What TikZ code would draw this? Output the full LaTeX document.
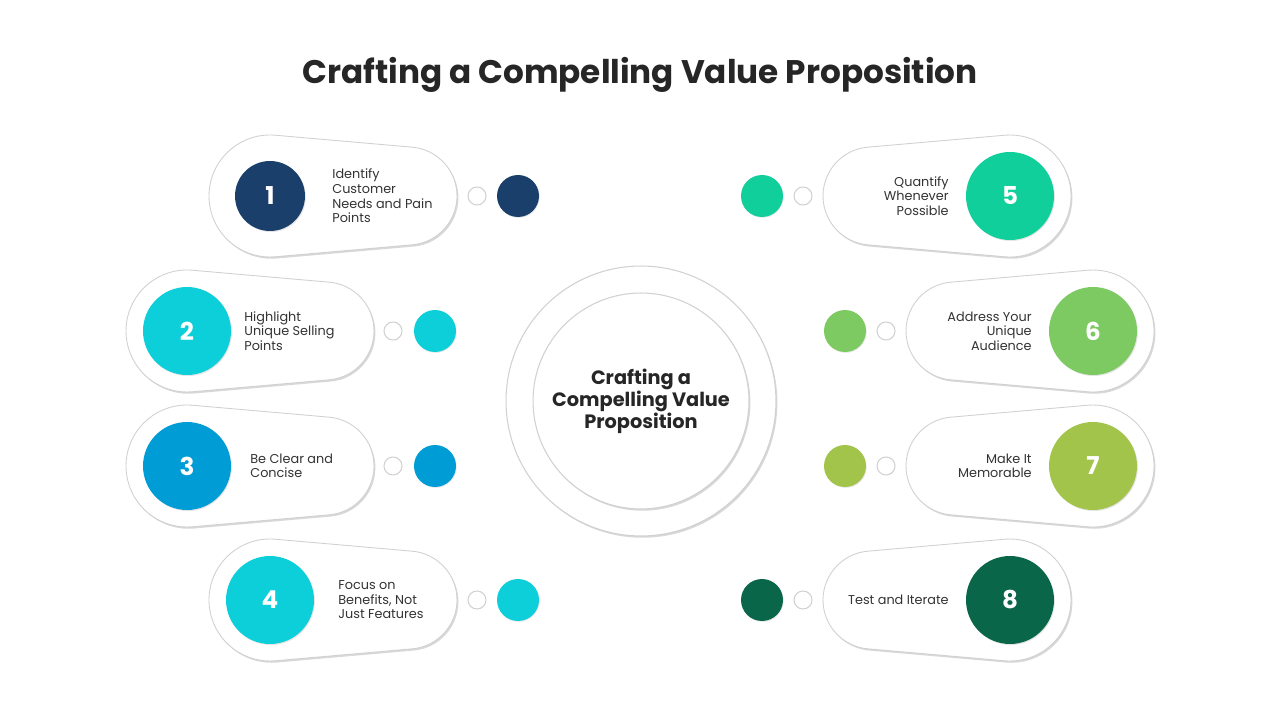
\documentclass[tikz,border=0pt]{standalone}
\usepackage{fontspec}
\setmainfont{Poppins}
\usetikzlibrary{calc,shadows}

\definecolor{titlegray}{HTML}{262626}
\definecolor{textgray}{HTML}{333333}
\definecolor{stepnavy}{HTML}{1B3F6B}
\definecolor{stepcyan}{HTML}{0DCFDA}
\definecolor{stepblue}{HTML}{009CD6}
\definecolor{stepmint}{HTML}{10CF9B}
\definecolor{steplime}{HTML}{7DC962}
\definecolor{stepolive}{HTML}{A3C44A}
\definecolor{stepforest}{HTML}{0A6649}

\tikzset{
  pillbox/.style={
    fill=white, draw=black!18, line width=0.5pt,
    drop shadow={opacity=0.3, shadow xshift=0.8pt, shadow yshift=-1pt}},
  numcircle/.style={
    circle, minimum size=1.76cm, inner sep=0pt, text=white,
    font=\fontsize{14}{14}\selectfont\bfseries,
    drop shadow={opacity=0.2, shadow xshift=0.5pt, shadow yshift=-0.6pt}},
  ringdot/.style={
    circle, minimum size=0.36cm, inner sep=0pt,
    fill=white, draw=black!18, line width=0.6pt},
  colordot/.style={
    circle, minimum size=0.84cm, inner sep=0pt,
    drop shadow={opacity=0.18, shadow xshift=0.4pt, shadow yshift=-0.5pt}},
  stepleft/.style={
    anchor=west, align=left, inner sep=0pt, text=textgray,
    font=\fontsize{7.3}{8.3}\selectfont},
  stepright/.style={
    anchor=east, align=right, inner sep=0pt, text=textgray,
    font=\fontsize{7.3}{8.3}\selectfont},
  hubring/.style={
    circle, inner sep=0pt, fill=white, draw=black!18, line width=0.6pt,
    drop shadow={opacity=0.3, shadow xshift=0.8pt, shadow yshift=-1pt}}
}

% pill with the big end on the left: #1 big x, #2 small x, #3 y
\newcommand{\pillleft}[3]{%
  \path[pillbox] (#2,#3) ++(-85:49) arc[start angle=-85, end angle=85, radius=49]
    -- ($(#1,#3)+(85:61)$) arc[start angle=85, end angle=275, radius=61] -- cycle;}

% pill with the big end on the right: #1 big x, #2 small x, #3 y
\newcommand{\pillright}[3]{%
  \path[pillbox] (#1,#3) ++(-95:61) arc[start angle=-95, end angle=95, radius=61]
    -- ($(#2,#3)+(95:49)$) arc[start angle=95, end angle=265, radius=49] -- cycle;}

\begin{document}
\begin{tikzpicture}[x=0.02cm, y=0.02cm]

\fill[white] (0,0) rectangle (1280,720);
\useasboundingbox (0,0) rectangle (1280,720);

%%%%%%%%%%%%%%%%%%%%%%%%%%%%%%%%%%%%%%%%%%%%%%%%%%%%%%
% TITLE
%%%%%%%%%%%%%%%%%%%%%%%%%%%%%%%%%%%%%%%%%%%%%%%%%%%%%%

\node[
font=\fontsize{18.6}{18.6}\selectfont\bfseries,
text=titlegray
] (title) at (640,645)
{Crafting a Compelling Value Proposition};

%%%%%%%%%%%%%%%%%%%%%%%%%%%%%%%%%%%%%%%%%%%%%%%%%%%%%%
% CENTRE
%%%%%%%%%%%%%%%%%%%%%%%%%%%%%%%%%%%%%%%%%%%%%%%%%%%%%%

\node[hubring, minimum size=5.4cm] (hub) at (641,319) {};

\node[
hubring,
minimum size=4.32cm,
align=center,
text=titlegray,
font=\fontsize{11}{12.5}\selectfont\bfseries
] (hubinner) at (hub)
{Crafting a\\Compelling Value\\Proposition};

%%%%%%%%%%%%%%%%%%%%%%%%%%%%%%%%%%%%%%%%%%%%%%%%%%%%%%
% LEFT PILLS
%%%%%%%%%%%%%%%%%%%%%%%%%%%%%%%%%%%%%%%%%%%%%%%%%%%%%%

\pillleft{270}{408}{524}
\pillleft{187}{325}{389}
\pillleft{187}{325}{254}
\pillleft{270}{408}{120}

%%%%%%%%%%%%%%%%%%%%%%%%%%%%%%%%%%%%%%%%%%%%%%%%%%%%%%
% RIGHT PILLS
%%%%%%%%%%%%%%%%%%%%%%%%%%%%%%%%%%%%%%%%%%%%%%%%%%%%%%

\pillright{1010}{872}{524}
\pillright{1093}{955}{389}
\pillright{1093}{955}{254}
\pillright{1010}{872}{120}

%%%%%%%%%%%%%%%%%%%%%%%%%%%%%%%%%%%%%%%%%%%%%%%%%%%%%%
% STEP 1
%%%%%%%%%%%%%%%%%%%%%%%%%%%%%%%%%%%%%%%%%%%%%%%%%%%%%%

\node[numcircle, minimum size=1.4cm, fill=stepnavy] (num1) at (270,524) {1};
\node[stepleft] (txt1) at (332,524) {Identify\\Customer\\Needs and Pain\\Points};
\node[ringdot] (ring1) at (477,524) {};
\node[colordot, fill=stepnavy] (dot1) at (518,524) {};

%%%%%%%%%%%%%%%%%%%%%%%%%%%%%%%%%%%%%%%%%%%%%%%%%%%%%%
% STEP 2
%%%%%%%%%%%%%%%%%%%%%%%%%%%%%%%%%%%%%%%%%%%%%%%%%%%%%%

\node[numcircle, fill=stepcyan] (num2) at (187,389) {2};
\node[stepleft] (txt2) at (244,389) {Highlight\\Unique Selling\\Points};
\node[ringdot] (ring2) at (393,389) {};
\node[colordot, fill=stepcyan] (dot2) at (435,389) {};

%%%%%%%%%%%%%%%%%%%%%%%%%%%%%%%%%%%%%%%%%%%%%%%%%%%%%%
% STEP 3
%%%%%%%%%%%%%%%%%%%%%%%%%%%%%%%%%%%%%%%%%%%%%%%%%%%%%%

\node[numcircle, fill=stepblue] (num3) at (187,254) {3};
\node[stepleft] (txt3) at (250,254) {Be Clear and\\Concise};
\node[ringdot] (ring3) at (393,254) {};
\node[colordot, fill=stepblue] (dot3) at (435,254) {};

%%%%%%%%%%%%%%%%%%%%%%%%%%%%%%%%%%%%%%%%%%%%%%%%%%%%%%
% STEP 4
%%%%%%%%%%%%%%%%%%%%%%%%%%%%%%%%%%%%%%%%%%%%%%%%%%%%%%

\node[numcircle, fill=stepcyan] (num4) at (270,120) {4};
\node[stepleft] (txt4) at (338,120) {Focus on\\Benefits, Not\\Just Features};
\node[ringdot] (ring4) at (477,120) {};
\node[colordot, fill=stepcyan] (dot4) at (518,120) {};

%%%%%%%%%%%%%%%%%%%%%%%%%%%%%%%%%%%%%%%%%%%%%%%%%%%%%%
% STEP 5
%%%%%%%%%%%%%%%%%%%%%%%%%%%%%%%%%%%%%%%%%%%%%%%%%%%%%%

\node[numcircle, fill=stepmint] (num5) at (1010,524) {5};
\node[stepright] (txt5) at (949,524) {Quantify\\Whenever\\Possible};
\node[ringdot] (ring5) at (803,524) {};
\node[colordot, fill=stepmint] (dot5) at (762,524) {};

%%%%%%%%%%%%%%%%%%%%%%%%%%%%%%%%%%%%%%%%%%%%%%%%%%%%%%
% STEP 6
%%%%%%%%%%%%%%%%%%%%%%%%%%%%%%%%%%%%%%%%%%%%%%%%%%%%%%

\node[numcircle, fill=steplime] (num6) at (1093,389) {6};
\node[stepright] (txt6) at (1032,389) {Address Your\\Unique\\Audience};
\node[ringdot] (ring6) at (886,389) {};
\node[colordot, fill=steplime] (dot6) at (845,389) {};

%%%%%%%%%%%%%%%%%%%%%%%%%%%%%%%%%%%%%%%%%%%%%%%%%%%%%%
% STEP 7
%%%%%%%%%%%%%%%%%%%%%%%%%%%%%%%%%%%%%%%%%%%%%%%%%%%%%%

\node[numcircle, fill=stepolive] (num7) at (1093,254) {7};
\node[stepright] (txt7) at (1032,254) {Make It\\Memorable};
\node[ringdot] (ring7) at (886,254) {};
\node[colordot, fill=stepolive] (dot7) at (845,254) {};

%%%%%%%%%%%%%%%%%%%%%%%%%%%%%%%%%%%%%%%%%%%%%%%%%%%%%%
% STEP 8
%%%%%%%%%%%%%%%%%%%%%%%%%%%%%%%%%%%%%%%%%%%%%%%%%%%%%%

\node[numcircle, fill=stepforest] (num8) at (1010,120) {8};
\node[stepright] (txt8) at (949,120) {Test and Iterate};
\node[ringdot] (ring8) at (803,120) {};
\node[colordot, fill=stepforest] (dot8) at (762,120) {};

\end{tikzpicture}
\end{document}
